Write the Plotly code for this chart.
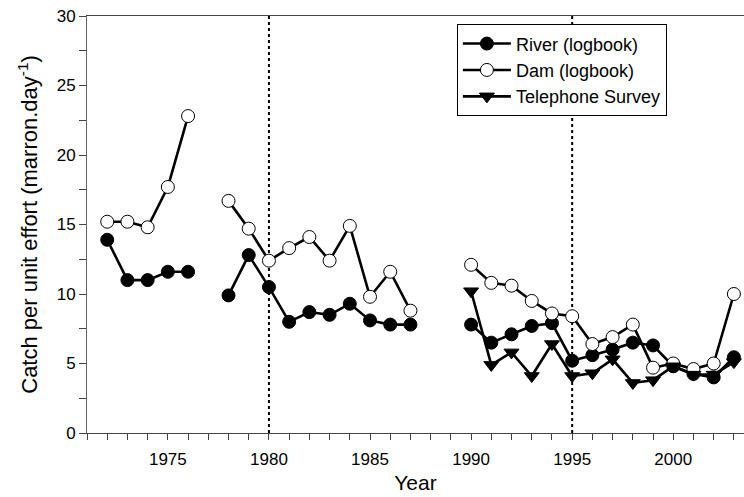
import plotly.graph_objects as go

years = list(range(1972, 2004))

river = [13.9, 11.0, 11.0, 11.6, 11.6, None, 9.9, 12.8, 10.5, 8.0, 8.7, 8.5, 9.3, 8.1, 7.8, 7.8,
         None, None, 7.8, 6.5, 7.1, 7.7, 7.9, 5.2, 5.6, 6.0, 6.5, 6.3, 4.8, 4.25, 4.0, 5.45]
dam = [15.2, 15.2, 14.8, 17.7, 22.8, None, 16.7, 14.7, 12.4, 13.3, 14.1, 12.4, 14.9, 9.8, 11.6, 8.8,
       None, None, 12.1, 10.8, 10.6, 9.5, 8.6, 8.4, 6.4, 6.9, 7.8, 4.7, 5.0, 4.6, 5.0, 10.0]
phone_years = list(range(1990, 2004))
phone = [10.2, 4.9, 5.8, 4.1, 6.4, 4.1, 4.3, 5.3, 3.6, 3.8, 4.8, 4.2, 4.2, 5.1]

divider_years = [1980, 1995]

FONT = "Liberation Sans, Arial, sans-serif"

fig = go.Figure()
fig.add_trace(go.Scatter(
    x=years, y=river, name="River (logbook)", mode="lines+markers",
    line=dict(color="black", width=2.6),
    marker=dict(symbol="circle", size=13, color="black", line=dict(color="black", width=1)),
    connectgaps=False))
fig.add_trace(go.Scatter(
    x=years, y=dam, name="Dam (logbook)", mode="lines+markers",
    line=dict(color="black", width=2.6),
    marker=dict(symbol="circle", size=13, color="white", line=dict(color="black", width=1)),
    connectgaps=False))
fig.add_trace(go.Scatter(
    x=phone_years, y=phone, name="Telephone Survey", mode="lines+markers",
    line=dict(color="black", width=2.6),
    marker=dict(symbol="triangle-down", size=13, color="black", line=dict(color="black", width=1))))

for yr in divider_years:
    fig.add_shape(type="line", xref="x", yref="paper", x0=yr, x1=yr, y0=0, y1=1,
                  line=dict(color="black", width=2, dash="dot"), layer="below")

fig.update_layout(
    width=744, height=497,
    margin=dict(l=87, r=0, t=16, b=64),
    paper_bgcolor="white", plot_bgcolor="white",
    font=dict(family=FONT, color="black", size=17),
    showlegend=True,
    legend=dict(x=0.563, y=0.98, xanchor="left", yanchor="top",
                bgcolor="white", bordercolor="black", borderwidth=1,
                itemwidth=48,
                font=dict(family=FONT, size=18, color="black")),
    xaxis=dict(range=[1971, 2003.5], tick0=1975, dtick=5,
               ticks="outside", ticklen=6, tickcolor="#444", tickwidth=1,
               minor=dict(dtick=1, tick0=1972, ticks="outside", ticklen=6, tickcolor="#444", tickwidth=1),
               showline=True, linecolor="#444", linewidth=1, mirror=True,
               showgrid=False, zeroline=False, tickfont=dict(size=17),
               ticklabelstandoff=5,
               title=dict(text="Year", font=dict(size=21), standoff=6)),
    yaxis=dict(range=[0, 30], tick0=0, dtick=5,
               ticks="outside", ticklen=7, tickcolor="#444", tickwidth=1,
               minor=dict(dtick=2.5, ticks="outside", ticklen=7, tickcolor="#444", tickwidth=1),
               showline=True, linecolor="#666", linewidth=1,
               showgrid=False, zeroline=False, tickfont=dict(size=17),
               title=dict(text="Catch per unit effort (marron.day<sup>-1</sup>)", font=dict(size=22), standoff=12)),
)

fig.write_html("out.html", config={"displayModeBar": False},
               post_script="document.body.style.margin='0';")
